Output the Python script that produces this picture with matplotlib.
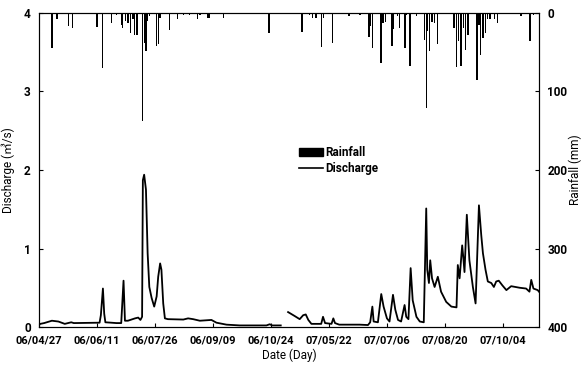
import numpy as np
import matplotlib.pyplot as plt
from matplotlib.patches import Patch
from matplotlib.lines import Line2D

plt.rcParams['font.family'] = ['Roboto', 'DejaVu Sans', 'Noto Sans CJK KR']
plt.rcParams['font.weight'] = 'bold'

# --- data (x = day index, winter months skipped in the record) ---
tick_days = [0, 45, 90, 135, 180, 225, 270, 315, 360]
tick_labels = ['06/04/27', '06/06/11', '06/07/26', '06/09/09', '06/10/24',
               '07/05/22', '07/07/06', '07/08/20', '07/10/04']

rain_day = [10, 14, 23, 26, 45, 49, 56, 60, 64, 65, 67, 69, 71, 73, 74, 76,
            80.5, 82, 83, 84, 85.5, 91, 92.5, 94, 101, 107.5, 112, 117, 123, 125,
            131, 132, 143, 178.5, 196, 204, 210, 212.5, 215, 219.5, 221, 227.5,
            240.5, 249, 256, 257, 259, 265.5, 267, 269, 274, 275, 278, 280, 284,
            285, 288, 293, 299, 300.5, 301.5, 303, 305, 307, 309, 322, 324, 325.5,
            327.5, 329.5, 331, 333, 340, 341.5, 342.5, 344.5, 346.5, 348, 350,
            353.5, 356, 374, 381, 384]
rain_mm = [45, 8, 17, 19, 18, 70, 13, 2, 15, 19, 10, 13, 25, 8, 28, 28,
           138, 38, 48, 10, 4, 42, 39, 6, 22, 8, 3, 2, 8, 2,
           6, 6, 6, 25, 1, 24, 2, 6, 7, 43, 6, 38,
           4, 2, 31, 17, 45, 64, 13, 11, 42, 21, 4, 19, 45,
           2, 67, 4, 34, 121, 23, 49, 11, 13, 40, 19, 69, 36,
           67, 19, 47, 28, 85, 15, 53, 32, 25, 8, 8,
           8, 13, 4, 36, 2]

q1_day = [0, 1, 4, 10, 15, 20, 25, 27, 47, 48, 49.6, 50.6, 51.5, 56, 60, 63.8,
          65.6, 66.7, 69, 74.5, 77, 78.7, 80, 80.6, 81.6, 83, 84.3, 85.6, 87.4,
          89.4, 91.3, 92.5, 94, 95, 96.4, 97.7, 100, 112, 115.7, 119.6, 124.8,
          133.8, 137.7, 145.5, 155.8, 176.5, 179, 181, 187.6]
q1_val = [0.03, 0.04, 0.05, 0.08, 0.07, 0.04, 0.06, 0.05, 0.055, 0.15, 0.49, 0.17,
          0.06, 0.055, 0.05, 0.05, 0.59, 0.08, 0.08, 0.11, 0.12, 0.09, 0.13, 1.87,
          1.94, 1.75, 0.94, 0.51, 0.37, 0.26, 0.39, 0.64, 0.81, 0.73, 0.30, 0.11,
          0.10, 0.095, 0.11, 0.10, 0.08, 0.09, 0.055, 0.03, 0.02, 0.02, 0.035,
          0.02, 0.02]

q2_day = [193.3, 198.4, 202.3, 205, 207, 209, 211.4, 219, 220.4, 222, 227, 228.4,
          229.7, 233, 248.8, 255.3, 257, 258.7, 259.7, 263, 265.6, 267.4, 270,
          272, 274.7, 276.5, 278.6, 281, 283.7, 285, 286.7, 288.4, 290, 292.9,
          295.5, 298.6, 300.5, 301.3, 302.6, 303.6, 305, 307, 309.5, 312, 316,
          320, 324, 325, 326.4, 328.4, 329.2, 330.2, 332, 334, 336.7, 338.8,
          341.4, 343.2, 344.5, 346.5, 348.3, 351, 353, 354.8, 356.8, 359.6,
          362.7, 366.4, 373, 378, 380.6, 382, 383.7, 387, 388]
q2_val = [0.19, 0.14, 0.10, 0.15, 0.16, 0.09, 0.04, 0.04, 0.13, 0.05, 0.04, 0.11,
          0.05, 0.03, 0.03, 0.025, 0.06, 0.26, 0.07, 0.06, 0.42, 0.26, 0.11,
          0.07, 0.41, 0.22, 0.09, 0.07, 0.28, 0.13, 0.10, 0.75, 0.34, 0.13,
          0.07, 0.06, 1.51, 0.73, 0.56, 0.85, 0.62, 0.51, 0.64, 0.45, 0.32,
          0.26, 0.25, 0.79, 0.62, 1.04, 0.90, 0.70, 1.43, 0.85, 0.51, 0.30,
          1.55, 1.17, 0.94, 0.73, 0.58, 0.56, 0.51, 0.58, 0.59, 0.53,
          0.47, 0.52, 0.50, 0.49, 0.45, 0.60, 0.49, 0.47, 0.45]

fig = plt.figure(figsize=(5.83, 3.68), dpi=100)
ax = fig.add_axes([0.0669, 0.1114, 0.8576, 0.8533])

ax.plot(q1_day, q1_val, color='black', lw=1.3)
ax.plot(q2_day, q2_val, color='black', lw=1.3)
ax.set_xlim(0, 388)
ax.set_ylim(0, 4)
ax.set_yticks([0, 1, 2, 3, 4])
ax.set_xticks(tick_days)
ax.set_xticklabels(tick_labels)
ax.tick_params(axis='x', direction='in', length=3, labelsize=8, pad=6)
ax.tick_params(axis='y', direction='in', length=3, labelsize=8.5, pad=6)
ax.set_ylabel('Discharge (㎥/s)', fontsize=8.5, labelpad=6)
ax.set_xlabel('Date (Day)', fontsize=8.5, labelpad=2)

ax2 = ax.twinx()
ax2.bar(rain_day, rain_mm, width=1.0, color='black')
ax2.set_ylim(400, 0)
ax2.set_yticks([0, 100, 200, 300, 400])
ax2.tick_params(direction='in', length=3, labelsize=8.5, pad=6)
ax2.set_ylabel('Rainfall (mm)', fontsize=8.5, labelpad=1)

handles = [Patch(color='black', label='Rainfall'),
           Line2D([0], [0], color='black', lw=1.2, label='Discharge')]
ax.legend(handles=handles, loc='center', bbox_to_anchor=(0.6, 0.53),
          frameon=False, fontsize=8.5, handlelength=2.0, handletextpad=0.2,
          labelspacing=0.2)

fig.savefig('out.png', dpi=100)
